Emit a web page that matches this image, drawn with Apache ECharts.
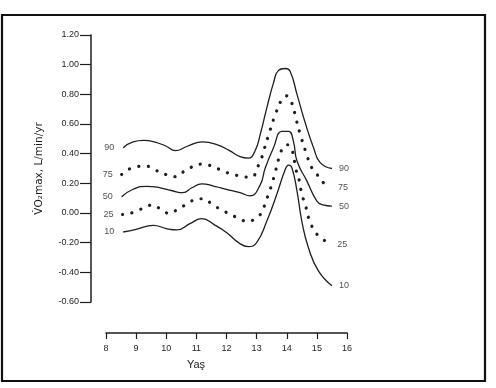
<!DOCTYPE html>
<html>
<head>
<meta charset="utf-8">
<script src="https://cdn.jsdelivr.net/npm/echarts@6/dist/echarts.min.js"></script>
<style>
html,body{margin:0;padding:0;background:#fff;}
#chart{width:496px;height:388px;}
</style>
</head>
<body>
<div id="chart"></div>
<script>
// ---- data ----
const percentiles = ['90', '75', '50', '25', '10'];
const dotted = [false, true, false, true, false];

const ages90 = [8.57, 8.9, 9.25, 9.6, 10.0, 10.3, 10.7, 11.2, 11.7, 12.1, 12.45, 12.72, 12.95, 13.12, 13.34, 13.56, 13.72, 13.95, 14.11, 14.34, 14.61, 14.89, 15.11, 15.5];
const vals90 = [0.44, 0.48, 0.49, 0.48, 0.45, 0.42, 0.45, 0.48, 0.46, 0.42, 0.38, 0.37, 0.42, 0.53, 0.71, 0.877, 0.96, 0.974, 0.956, 0.80, 0.61, 0.44, 0.34, 0.30];

const ages75 = [8.52, 8.96, 9.32, 9.63, 9.98, 10.29, 10.57, 10.85, 11.16, 11.46, 11.81, 12.12, 12.45, 12.78, 13.1, 13.25, 13.45, 13.65, 13.84, 13.98, 14.17, 14.3, 14.45, 14.62, 14.83, 15.02, 15.24, 15.47];
const vals75 = [0.26, 0.31, 0.316, 0.29, 0.26, 0.245, 0.278, 0.31, 0.33, 0.32, 0.29, 0.265, 0.25, 0.24, 0.34, 0.43, 0.56, 0.68, 0.766, 0.79, 0.74, 0.64, 0.53, 0.42, 0.305, 0.256, 0.20, 0.17];

const ages50 = [8.52, 8.9, 9.35, 9.8, 10.2, 10.55, 10.85, 11.18, 11.6, 12.0, 12.45, 12.78, 13.12, 13.28, 13.56, 13.84, 14.06, 14.22, 14.34, 14.67, 15.0, 15.2, 15.5];
const vals50 = [0.11, 0.16, 0.18, 0.17, 0.15, 0.137, 0.17, 0.197, 0.18, 0.16, 0.137, 0.115, 0.19, 0.30, 0.44, 0.55, 0.55, 0.485, 0.35, 0.215, 0.08, 0.055, 0.047];

const ages25 = [8.55, 8.96, 9.26, 9.55, 9.82, 10.10, 10.38, 10.68, 10.93, 11.21, 11.49, 11.79, 12.06, 12.34, 12.67, 12.95, 13.14, 13.28, 13.39, 13.5, 13.61, 13.78, 13.91, 14.05, 14.17, 14.31, 14.42, 14.50, 14.61, 14.72, 14.83, 15.0, 15.22, 15.44];
const vals25 = [-0.01, 0.007, 0.036, 0.054, 0.025, -0.002, 0.025, 0.06, 0.088, 0.096, 0.065, 0.025, -0.002, -0.03, -0.054, -0.042, -0.005, 0.06, 0.126, 0.19, 0.27, 0.395, 0.45, 0.46, 0.43, 0.29, 0.215, 0.126, 0.06, -0.03, -0.088, -0.143, -0.18, -0.21];

const ages10 = [8.57, 9.0, 9.57, 10.0, 10.35, 10.8, 11.18, 11.6, 12.01, 12.4, 12.72, 13.0, 13.34, 13.67, 13.95, 14.06, 14.17, 14.34, 14.50, 14.72, 15.05, 15.5];
const vals10 = [-0.128, -0.11, -0.083, -0.105, -0.114, -0.07, -0.038, -0.08, -0.133, -0.2, -0.227, -0.2, -0.054, 0.126, 0.294, 0.323, 0.305, 0.148, -0.054, -0.234, -0.39, -0.49];

const xTicks = [8, 9, 10, 11, 12, 13, 14, 15, 16];
const yTicks = [-0.6, -0.4, -0.2, 0, 0.2, 0.4, 0.6, 0.8, 1.0, 1.2];
const xName = 'Yaş';
const yName = 'V̇O₂max, L/min/yr';

// ---- build ----
const allAges = [ages90, ages75, ages50, ages25, ages10];
const allVals = [vals90, vals75, vals50, vals25, vals10];
const INK = '#1e1e1e';
const FONT = 'Liberation Sans';

const lineSeries = percentiles.map((p, i) => ({
  type: 'line',
  name: p,
  data: allAges[i].map((a, j) => [a, allVals[i][j]]),
  smooth: 0.5,
  showSymbol: false,
  symbol: 'none',
  silent: true,
  lineStyle: dotted[i]
    ? { color: INK, width: 3.2, type: [0.1, 9.5], cap: 'round' }
    : { color: INK, width: 1.3 }
}));

const startLabels = {
  type: 'scatter',
  symbolSize: 0,
  silent: true,
  data: percentiles.map((p, i) => ({ name: p, value: [allAges[i][0], allVals[i][0]] })),
  label: { show: true, position: 'left', distance: 9, formatter: '{b}', color: INK, fontSize: 9, fontFamily: FONT }
};
const endLabels = {
  type: 'scatter',
  symbolSize: 0,
  silent: true,
  data: percentiles.map((p, i) => {
    const n = allAges[i].length - 1;
    return { name: p, value: [allAges[i][n], allVals[i][n]] };
  }),
  label: { show: true, position: 'right', distance: 7, formatter: '{b}', color: INK, fontSize: 9, fontFamily: FONT }
};

const chart = echarts.init(document.getElementById('chart'), null, { renderer: 'canvas' });
chart.setOption({
  animation: false,
  backgroundColor: '#fff',
  grid: { left: 106, right: 149, top: 35, bottom: 86 },
  xAxis: {
    type: 'value',
    min: xTicks[0], max: xTicks[xTicks.length - 1], interval: 1,
    offset: 31,
    name: xName,
    nameLocation: 'middle',
    nameGap: 26,
    nameTextStyle: { color: INK, fontSize: 11, fontFamily: FONT, padding: [0, 61, 0, 0] },
    axisLine: { show: true, onZero: false, lineStyle: { color: INK, width: 1.5 } },
    axisTick: { show: true, length: 6, lineStyle: { color: INK, width: 1.2 } },
    axisLabel: { color: INK, fontSize: 9, fontFamily: FONT, margin: 11 },
    splitLine: { show: false }
  },
  yAxis: {
    type: 'value',
    min: yTicks[0], max: yTicks[yTicks.length - 1], interval: 0.2,
    offset: 15,
    name: yName,
    nameLocation: 'middle',
    nameGap: 46,
    nameRotate: 90,
    nameTextStyle: { color: INK, fontSize: 10.5, fontFamily: 'DejaVu Sans' },
    axisLine: { show: true, onZero: false, lineStyle: { color: INK, width: 1.5 } },
    axisTick: { show: true, length: 11, lineStyle: { color: INK, width: 1.2 } },
    axisLabel: { color: INK, fontSize: 9, fontFamily: FONT, margin: 12, formatter: v => v.toFixed(2) },
    splitLine: { show: false }
  },
  graphic: [{
    type: 'rect',
    shape: { x: 2, y: 15, width: 483, height: 366 },
    style: { fill: 'none', stroke: '#111', lineWidth: 2.2 },
    silent: true
  }],
  series: [...lineSeries, startLabels, endLabels]
});
</script>
</body>
</html>
